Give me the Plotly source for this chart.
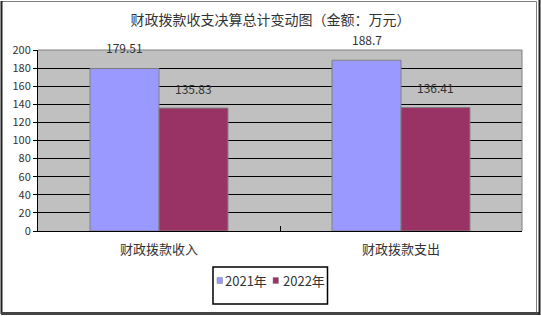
import plotly.graph_objects as go

categories = ["财政拨款收入", "财政拨款支出"]
series_names = ["2021年", "2022年"]
values_2021 = [179.51, 188.7]
values_2022 = [135.83, 136.41]
value_labels_2021 = ["179.51", "188.7"]
value_labels_2022 = ["135.83", "136.41"]
y_ticks = list(range(0, 201, 20))
colors = ["#9999FF", "#993366"]

W, H = 541, 316
L, R, T, B = 38, 19, 50, 85
pw, ph = W - L - R, H - T - B

def px_x(x):
    return (x - L) / pw

def px_y(y):
    return (H - B - y) / ph

FONT = "Noto Sans CJK SC, Liberation Sans, sans-serif"

fig = go.Figure()
fig.add_trace(go.Bar(name=series_names[0], x=categories, y=values_2021,
                     marker=dict(color=colors[0], line=dict(color="#808080", width=1))))
fig.add_trace(go.Bar(name=series_names[1], x=categories, y=values_2022,
                     marker=dict(color=colors[1], line=dict(color="#808080", width=1))))

annotations = []
for i, c in enumerate(categories):
    annotations.append(dict(x=c, y=values_2021[i], xref="x", yref="y", text=value_labels_2021[i],
                            showarrow=False, xshift=-34.5, yshift=21, yanchor="middle",
                            font=dict(size=12, color="#333333", family=FONT)))
    annotations.append(dict(x=c, y=values_2022[i], xref="x", yref="y", text=value_labels_2022[i],
                            showarrow=False, xshift=34.5, yshift=20, yanchor="middle",
                            font=dict(size=12, color="#333333", family=FONT)))

shapes = [
    dict(type="line", xref="paper", yref="paper", x0=0, x1=1, y0=1, y1=1,
         line=dict(color="#808080", width=1), layer="above"),
    dict(type="line", xref="paper", yref="paper", x0=1, x1=1, y0=0, y1=1,
         line=dict(color="#808080", width=1), layer="above"),
    dict(type="rect", xref="paper", yref="paper", x0=px_x(1.5), x1=px_x(536.5),
         y0=px_y(312.5), y1=px_y(1.5), line=dict(color="#808080", width=1), layer="above"),
    dict(type="line", xref="paper", yref="paper", x0=px_x(1.5), x1=px_x(1.5),
         y0=px_y(314), y1=px_y(1), line=dict(color="#222222", width=2), layer="above"),
    dict(type="line", xref="paper", yref="paper", x0=px_x(1), x1=px_x(540),
         y0=px_y(313.5), y1=px_y(313.5), line=dict(color="#444444", width=3), layer="above"),
    dict(type="line", xref="paper", yref="paper", x0=px_x(539.5), x1=px_x(539.5),
         y0=px_y(315), y1=px_y(0), line=dict(color="#222222", width=2), layer="above"),
    # custom legend box
    dict(type="rect", xref="paper", yref="paper", x0=px_x(213), x1=px_x(327.5),
         y0=px_y(304), y1=px_y(267), line=dict(color="black", width=1.5),
         fillcolor="white", layer="above"),
]

# legend entries (swatch + label)
legend_swatch_x = [217, 273]
legend_text_x = [222.5, 280.5]
legend_y = 280.5
for k, name in enumerate(series_names):
    shapes.append(dict(type="rect", xref="paper", yref="paper",
                       x0=px_x(legend_swatch_x[k]), x1=px_x(legend_swatch_x[k] + 5.5),
                       y0=px_y(legend_y + 3), y1=px_y(legend_y - 3),
                       fillcolor=colors[k], line=dict(color="#808080", width=0.5),
                       layer="above"))
    annotations.append(dict(x=px_x(legend_text_x[k]), y=px_y(legend_y), xref="paper", yref="paper",
                            text=name, showarrow=False, xanchor="left", yanchor="middle",
                            font=dict(size=13, color="#333333", family=FONT)))

fig.update_layout(
    width=W, height=H,
    margin=dict(l=L, r=R, t=T, b=B, pad=0),
    paper_bgcolor="white",
    plot_bgcolor="#C0C0C0",
    barmode="group",
    bargap=0.43,
    bargroupgap=0,
    font=dict(family=FONT, color="#222222"),
    title=dict(text="财政拨款收支决算总计变动图（金额：万元）", x=0.5, xref="container",
               y=1 - 20 / H, yref="container", yanchor="middle", xanchor="center",
               font=dict(size=14, color="#333333", family=FONT)),
    xaxis=dict(showgrid=False, showline=True, linecolor="black", linewidth=1,
               ticks="inside", ticklen=5, tickcolor="black", tickson="boundaries",
               tickfont=dict(size=13, color="#333333", family=FONT), ticklabelstandoff=6),
    yaxis=dict(range=[0, 200], tickvals=y_ticks, showgrid=True, gridcolor="black", gridwidth=1,
               showline=True, linecolor="black", linewidth=1, ticks="outside", ticklen=4,
               tickcolor="black", tickfont=dict(size=11, color="#333333", family=FONT),
               zeroline=False, fixedrange=True),
    annotations=annotations,
    shapes=shapes,
    showlegend=False,
)

fig.write_html("out.html")
